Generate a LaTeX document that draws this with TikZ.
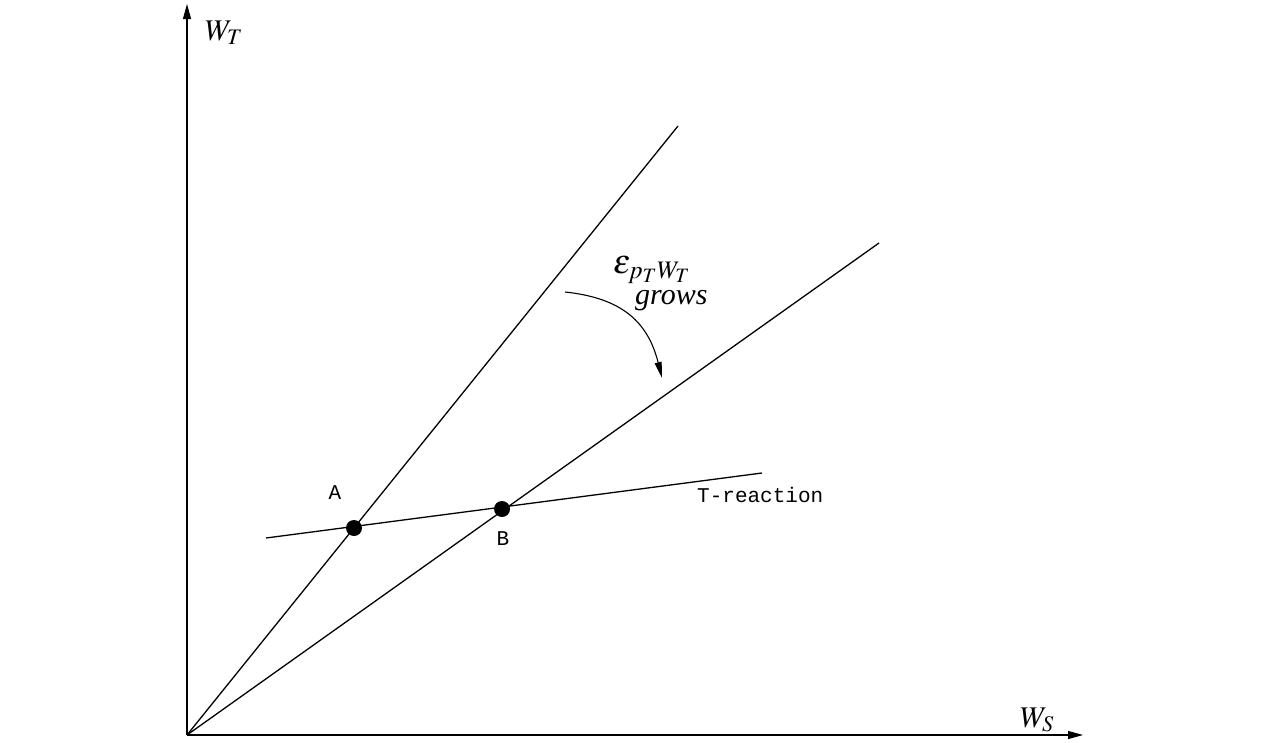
\documentclass[tikz,border=0pt]{standalone}
\usepackage{mathptmx}
\usepackage[no-math]{fontspec}
\setmainfont{Liberation Serif}
\setmonofont{Liberation Mono}
\usetikzlibrary{arrows.meta}
\tikzset{
  axis/.style={line width=1.1pt,-{Triangle[length=15pt,width=8pt]}},
  ln/.style={line width=1.3pt},
  dot/.style={circle,fill=black,inner sep=0pt,minimum size=16pt},
  mlab/.style={font=\fontsize{30}{36}\selectfont,inner sep=0pt},
  tlab/.style={font=\fontsize{21}{24}\selectfont\ttfamily,inner sep=0pt},
}
\begin{document}
\begin{tikzpicture}[x=1pt,y=-1pt]
\useasboundingbox (0,0) rectangle (1275,742);
\coordinate (O) at (187,735);
\coordinate (Ytop) at (187,4);
\coordinate (Xend) at (1083,735);
\coordinate (L1) at (678,126);
\coordinate (L2) at (879,243);
\coordinate (R1) at (266,538);
\coordinate (R2) at (762,473);
\draw[axis] (O) -- (Ytop);
\draw[axis] (O) -- (Xend);
\draw[ln] (O) -- (L1);
\draw[ln] (O) -- (L2);
\draw[ln] (R1) -- (R2);
\node[dot] (A) at (354,528) {};
\node[dot] (B) at (502,509) {};
\node[mlab,anchor=base west] (wt) at (205,40) {$W_T$};
\node[mlab,anchor=base west] (ws) at (1020,727) {$W_S$};
\node[tlab] (la) at (335,493) {A};
\node[tlab] (lb) at (503,539) {B};
\node[tlab,anchor=west] (tr) at (697,495) {T-reaction};
\node[mlab,font=\fontsize{34}{40}\selectfont,anchor=base west] (eps) at (613,273) {$\epsilon_{p_T W_T}$};
\node[mlab,anchor=base west] (grows) at (635,304) {\itshape grows};
\coordinate (cs) at (565,292);
\coordinate (ce) at (662,378);
\draw[line width=1.1pt,-{Triangle[length=16pt,width=7pt]}] (cs) .. controls (622,298) and (648,322) .. (ce);
\end{tikzpicture}
\end{document}
